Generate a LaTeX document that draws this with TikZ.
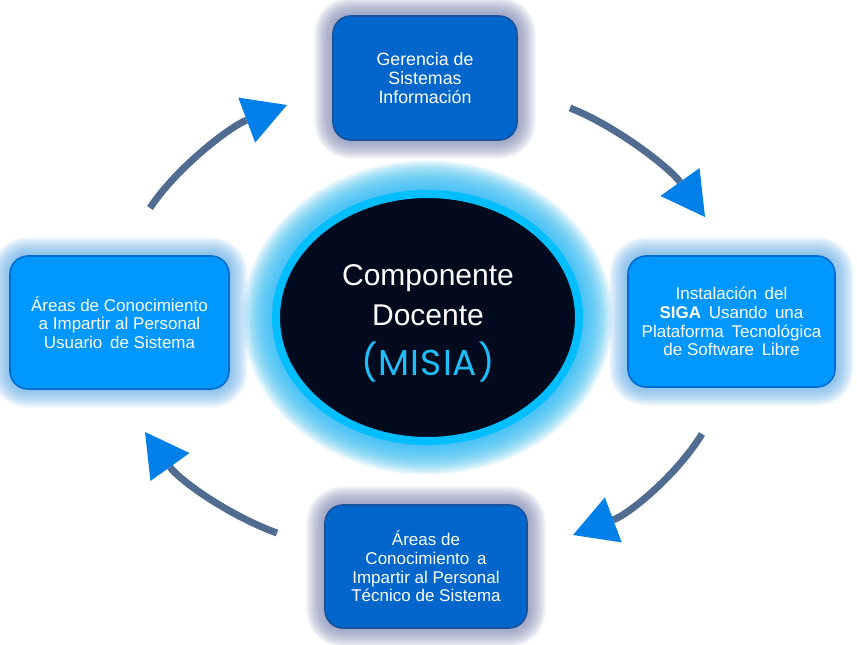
\documentclass[tikz,border=0pt]{standalone}
\usepackage{fontspec}
\setmainfont{Liberation Sans}
\newfontfamily\misiafont{Poppins}[LetterSpace=3]
\usetikzlibrary{arrows.meta,shapes.geometric}

\definecolor{darkbox}{RGB}{0,102,204}
\definecolor{darkboxline}{RGB}{22,82,158}
\definecolor{lightbox}{RGB}{0,152,255}
\definecolor{lightboxline}{RGB}{0,108,208}
\definecolor{greyhalo}{RGB}{125,135,178}
\definecolor{bluehalo}{RGB}{100,175,235}
\definecolor{coredark}{RGB}{2,10,30}
\definecolor{ringcyan}{RGB}{0,190,255}
\definecolor{glowcyan}{RGB}{50,190,245}
\definecolor{arcline}{RGB}{80,108,145}
\definecolor{tipblue}{RGB}{0,128,232}
\definecolor{misiacyan}{RGB}{30,190,250}

\pgfdeclarelayer{paper}
\pgfdeclarelayer{halo}
\pgfsetlayers{paper,halo,main}

\tikzset{
  stagebox/.style={rectangle, rounded corners=18pt, line width=1.6pt, inner sep=0pt,
    align=center, text=white, font=\fontsize{17}{18.7}\selectfont},
  darkstage/.style={stagebox, fill=darkbox, draw=darkboxline},
  lightstage/.style={stagebox, fill=lightbox, draw=lightboxline},
  coretext/.style={text=white, font=\fontsize{30}{32}\selectfont, anchor=base, inner sep=0pt},
  cyclearc/.style={line width=7pt, draw=arcline,
    -{Triangle[length=43pt,width=48pt,color=tipblue,line width=0pt]}},
}

% soft halo around a rounded box node
\newcommand\boxhalo[2]{%
  \foreach \d [evaluate=\d as \rr using 18+\d] in {1,...,18}{%
    \fill[#2, opacity=0.06, rounded corners=\rr pt]
      ([shift={(-\d,-\d)}]#1.north west) rectangle ([shift={(\d,\d)}]#1.south east);
  }%
}
\newcommand\gap{\hspace{0.45em}}

\begin{document}
\begin{tikzpicture}[x=1pt,y=-1pt]
\useasboundingbox (0,0) rectangle (857,645);
\begin{pgfonlayer}{paper}
  \fill[white] (0,0) rectangle (857,645);
\end{pgfonlayer}

% central component
\node[ellipse, minimum width=303pt, minimum height=247pt, inner sep=0pt,
      fill=coredark, draw=ringcyan, line width=8pt] (core) at (427.5,317.5) {};
\node[coretext] (t1) at (428,285) {Componente};
\node[coretext] (t2) at (428,325) {Docente};
\node[coretext, text=misiacyan, font=\misiafont\fontsize{36}{38}\selectfont] (t3) at (428,375) {(MISIA)};

% the four stages
\node[darkstage, font=\fontsize{17.8}{18.7}\selectfont, minimum width=184pt, minimum height=124pt] (top) at (425,78)
  {Gerencia de\\Sistemas\\Información};
\node[lightstage, minimum width=207pt, minimum height=131pt] (right) at (731.5,321.5)
  {Instalación\gap del\\\textbf{SIGA}\gap Usando\gap una\\Plataforma\gap Tecnológica\\de Software\gap Libre};
\node[darkstage, minimum width=202pt, minimum height=123pt] (bottom) at (426,566.5)
  {Áreas de\\Conocimiento\gap a\\Impartir al Personal\\Técnico de Sistema};
\node[lightstage, minimum width=219pt, minimum height=133pt] (left) at (119.5,322.5)
  {Áreas de Conocimiento\\a Impartir al Personal\\Usuario\gap de Sistema};

% glows
\begin{pgfonlayer}{halo}
  \foreach \d [evaluate=\d as \rx using 151.5+\d, evaluate=\d as \ry using 123.5+\d] in {4,...,34}{
    \fill[glowcyan, opacity=0.06] (core.center) ellipse [x radius=\rx pt, y radius=\ry pt];
  }
  \boxhalo{top}{greyhalo}
  \boxhalo{bottom}{greyhalo}
  \boxhalo{right}{bluehalo}
  \boxhalo{left}{bluehalo}
\end{pgfonlayer}

% cycle arrows
\coordinate (a1s) at (570,108);  \coordinate (a1e) at (705,217);
\coordinate (a2s) at (702,434);  \coordinate (a2e) at (573,535);
\coordinate (a3s) at (277,533);  \coordinate (a3e) at (145,432);
\coordinate (a4s) at (150,208);  \coordinate (a4e) at (287,105);
\draw[cyclearc] (a1s) .. controls (616,126) and (670,168) .. (a1e);
\draw[cyclearc] (a2s) .. controls (676,476) and (629,514) .. (a2e);
\draw[cyclearc] (a3s) .. controls (230,516) and (180,481) .. (a3e);
\draw[cyclearc] (a4s) .. controls (177,167) and (231,126) .. (a4e);
\end{tikzpicture}
\end{document}
